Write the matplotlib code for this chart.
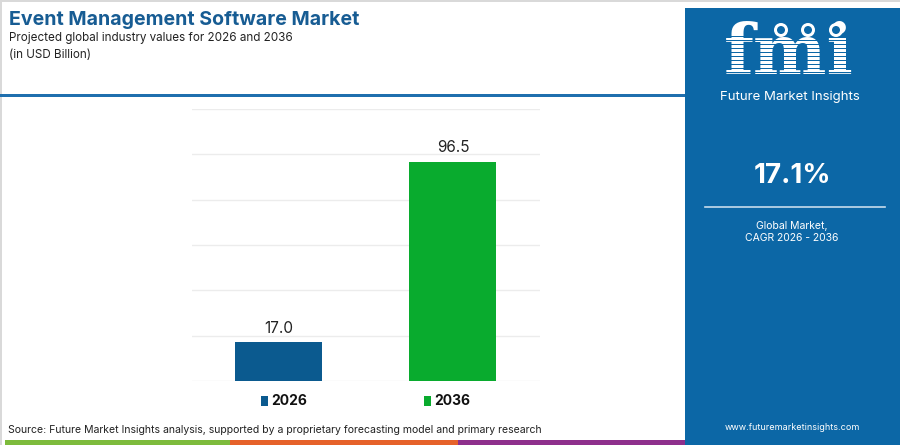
import matplotlib
matplotlib.use("Agg")
import matplotlib.pyplot as plt
from matplotlib.patches import Rectangle, Circle

categories = ["2026", "2036"]
values = [17.0, 96.5]
bar_colors = ["#0b5a8f", "#09ab2e"]
yticks = [0, 20, 40, 60, 80, 100, 120]
title = "Event Management Software Market"
subtitle1 = "Projected global industry values for 2026 and 2036"
subtitle2 = "(in USD Billion)"
cagr = "17.1%"
source = "Source: Future Market Insights analysis, supported by a proprietary forecasting model and primary research"

W, H = 900, 445
fig = plt.figure(figsize=(9, 4.45), dpi=100)
fig.patch.set_facecolor("white")
FONT = "Inter"

def fx(x):
    return x / W

def fy(y):
    return 1 - y / H

# background overlay axes
bg = fig.add_axes([0, 0, 1, 1])
bg.set_xlim(0, W)
bg.set_ylim(H, 0)
bg.axis("off")

# borders
bg.add_patch(Rectangle((0, 0), W, 1.5, color="#d9d9d9", lw=0))
bg.add_patch(Rectangle((0, 0), 1.5, H, color="#d9d9d9", lw=0))
# blue divider
bg.add_patch(Rectangle((0, 93.5), 685, 3.5, color="#1f6fae", lw=0))
# bottom stripes
bg.add_patch(Rectangle((5, 440), 225, 5, color="#7dbb3c", lw=0))
bg.add_patch(Rectangle((230, 440), 228, 5, color="#e6622a", lw=0))
bg.add_patch(Rectangle((458, 440), 227, 5, color="#8e2f8c", lw=0))

# right panel
panel_col = "#0c67a6"
bg.add_patch(Rectangle((685, 8), 215, H - 8, color=panel_col, lw=0))

# logo
bg.text(789, 88, "fmi", fontsize=50, fontweight="bold", family="DejaVu Serif",
        color="white", ha="center", va="bottom")
for yy in range(36, 82, 4):
    bg.add_patch(Rectangle((715, yy), 150, 1.3, color=panel_col, lw=0, zorder=5))
for cx in [781, 808, 836]:
    bg.add_patch(Circle((cx, 30), 7, color="white", lw=0, zorder=6))
    bg.add_patch(Circle((cx, 30), 4, color=panel_col, lw=0, zorder=7))
bg.text(790, 97, "Future Market Insights", fontsize=9.5, family=FONT, color="white",
        ha="center", va="center", zorder=8)

bg.text(792, 176, cagr, fontsize=20, fontweight="bold", family=FONT, color="white",
        ha="center", va="center")
bg.plot([705, 885], [207, 207], color="#c8dcec", lw=1.2)
bg.text(792, 226, "Global Market,", fontsize=7.5, family=FONT, color="white",
        ha="center", va="center")
bg.text(792, 238, "CAGR 2026 - 2036", fontsize=7.5, family=FONT, color="white",
        ha="center", va="center")
bg.text(792, 428, "www.futuremarketinsights.com", fontsize=6.5, family=FONT,
        color="white", ha="center", va="center")

# titles
bg.text(9, 20, title, fontsize=14.1, fontweight="bold", family=FONT, color="#175c93",
        ha="left", va="center")
bg.text(9, 38, subtitle1, fontsize=8.4, family=FONT, color="#222222", ha="left", va="center")
bg.text(9, 55, subtitle2, fontsize=8.4, family=FONT, color="#222222", ha="left", va="center")
bg.text(8, 430, source, fontsize=7.55, family=FONT, color="#222222", ha="left", va="center")

# chart axes
x0, x1 = 191.7, 540
y_top, y_bot = 109, 381
ax = fig.add_axes([fx(x0), fy(y_bot), fx(x1 - x0), (y_bot - y_top) / H])
ax.set_facecolor("none")
xs = list(range(len(categories)))
bars = ax.bar(xs, values, width=0.5, color=bar_colors, zorder=3)
ax.set_xlim(-0.5, 1.5)
ax.set_ylim(yticks[0], yticks[-1])
ax.set_yticks(yticks)
ax.yaxis.grid(True, color="#ececec", lw=1)
ax.tick_params(left=False, bottom=False, labelleft=False, labelbottom=False)
for s in ax.spines.values():
    s.set_visible(False)
for b, v in zip(bars, values):
    ax.annotate(f"{v:.1f}", (b.get_x() + b.get_width() / 2, v), xytext=(0, 5),
                textcoords="offset points", ha="center", va="bottom",
                fontsize=11, family=FONT, color="#222222")

# legend
leg_x = [261, 424]
for lx, c, lab in zip(leg_x, bar_colors, categories):
    bg.add_patch(Rectangle((lx, 396), 7, 10, color=c, lw=0))
    bg.text(lx + 10, 401, lab, fontsize=10, fontweight="bold", family=FONT,
            color="#111111", ha="left", va="center")

fig.savefig("out.png", dpi=100)
